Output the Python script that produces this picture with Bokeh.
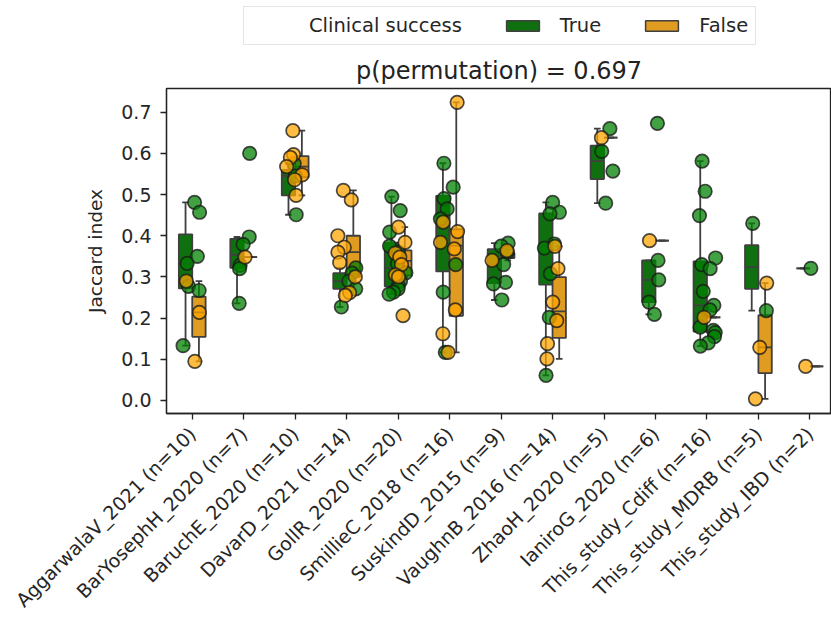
import numpy as np
from math import pi
from bokeh.plotting import figure
from bokeh.layouts import column
from bokeh.models import (ColumnDataSource, FixedTicker, Legend, LegendItem, Range1d,
                          PrintfTickFormatter)
from bokeh.embed import file_html
from bokeh.resources import INLINE

# ---------------- data ----------------
studies = ["AggarwalaV_2021", "BarYosephH_2020", "BaruchE_2020", "DavarD_2021",
           "GollR_2020", "SmillieC_2018", "SuskindD_2015", "VaughnB_2016",
           "ZhaoH_2020", "IaniroG_2020", "This_study_Cdiff", "This_study_MDRB",
           "This_study_IBD"]
n_total = [10, 7, 10, 14, 20, 16, 9, 14, 5, 6, 16, 5, 2]

true_vals = [
    [0.481, 0.457, 0.350, 0.333, 0.277, 0.267, 0.133],
    [0.600, 0.397, 0.379, 0.328, 0.320, 0.236],
    [0.575, 0.545, 0.451],
    [0.322, 0.309, 0.290, 0.271, 0.227],
    [0.495, 0.461, 0.409, 0.375, 0.360, 0.333, 0.310, 0.290, 0.279, 0.271, 0.263, 0.258],
    [0.576, 0.518, 0.490, 0.465, 0.441, 0.330, 0.263, 0.117],
    [0.382, 0.375, 0.360, 0.330, 0.287, 0.283, 0.244],
    [0.481, 0.457, 0.453, 0.380, 0.370, 0.308, 0.202, 0.061],
    [0.660, 0.605, 0.557, 0.479],
    [0.673, 0.340, 0.293, 0.239, 0.209],
    [0.581, 0.508, 0.449, 0.346, 0.330, 0.320, 0.265, 0.231, 0.220, 0.178, 0.170,
     0.165, 0.155, 0.140, 0.132],
    [0.430, 0.218],
    [0.321],
]
false_vals = [
    [0.290, 0.214, 0.095],
    [0.348],
    [0.655, 0.597, 0.590, 0.568, 0.548, 0.536, 0.498],
    [0.510, 0.487, 0.400, 0.372, 0.360, 0.335, 0.300, 0.262, 0.255],
    [0.421, 0.384, 0.358, 0.348, 0.330, 0.305, 0.300, 0.206],
    [0.724, 0.433, 0.410, 0.384, 0.368, 0.220, 0.162, 0.117],
    [0.364, 0.340],
    [0.374, 0.320, 0.239, 0.194, 0.138, 0.101],
    [0.638],
    [0.388],
    [0.202],
    [0.285, 0.129, 0.004],
    [0.083],
]
tick_labels = [f"{s} (n={n})" for s, n in zip(studies, n_total)]
y_ticks = [0.0, 0.1, 0.2, 0.3, 0.4, 0.5, 0.6, 0.7]
title_text = "p(permutation) = 0.697"
legend_title = "Clinical success"
hue_labels = ["True", "False"]
y_label = "Jaccard index"

# ---------------- style ----------------
FONT = "DejaVu Sans"
BOX_COLORS = ["#107010", "#df9c20"]
POINT_COLORS = ["#008000", "#ffa500"]
LINE = "#3f3f3f"
TXT = "#262626"
BOX_W = 0.26
OFFSETS = [-0.13, 0.13]
HEADER_H = 50

p = figure(width=831, height=622 - HEADER_H,
           x_range=Range1d(-0.5, 12.42), y_range=Range1d(-0.0316, 0.7575),
           output_backend="svg", toolbar_location=None,
           min_border_left=166, min_border_right=0,
           min_border_top=88 - HEADER_H, min_border_bottom=209)


def box_stats(vals):
    a = np.sort(np.asarray(vals, dtype=float))
    q1, med, q3 = np.percentile(a, [25, 50, 75])
    iqr = q3 - q1
    lo = a[a >= q1 - 1.5 * iqr].min()
    hi = a[a <= q3 + 1.5 * iqr].max()
    return q1, med, q3, lo, hi


for h, groups in enumerate([true_vals, false_vals]):
    d = dict(left=[], right=[], top=[], bottom=[])
    wk = dict(x0=[], y0=[], x1=[], y1=[])
    md = dict(x0=[], y0=[], x1=[], y1=[])
    for i, vals in enumerate(groups):
        if not vals:
            continue
        q1, med, q3, lo, hi = box_stats(vals)
        c = i + OFFSETS[h]
        d["left"].append(c - BOX_W / 2)
        d["right"].append(c + BOX_W / 2)
        d["top"].append(q3)
        d["bottom"].append(q1)
        for a_, b_ in [(q1, lo), (q3, hi)]:
            wk["x0"].append(c); wk["x1"].append(c)
            wk["y0"].append(a_); wk["y1"].append(b_)
        for v in (lo, hi):
            wk["x0"].append(c - BOX_W / 4); wk["x1"].append(c + BOX_W / 4)
            wk["y0"].append(v); wk["y1"].append(v)
        md["x0"].append(c - BOX_W / 2); md["x1"].append(c + BOX_W / 2)
        md["y0"].append(med); md["y1"].append(med)
    p.segment("x0", "y0", "x1", "y1", source=ColumnDataSource(wk),
              line_color=LINE, line_width=1.8)
    p.quad(left="left", right="right", top="top", bottom="bottom",
           source=ColumnDataSource(d), fill_color=BOX_COLORS[h],
           line_color=LINE, line_width=1.8)
    p.segment("x0", "y0", "x1", "y1", source=ColumnDataSource(md),
              line_color=LINE, line_width=1.8)

rng = np.random.default_rng(7)
for h, groups in enumerate([true_vals, false_vals]):
    xs, ys = [], []
    for i, vals in enumerate(groups):
        for v in vals:
            xs.append(i + rng.uniform(-0.18, 0.18))
            ys.append(v)
    p.scatter(xs, ys, size=13.5, fill_color=POINT_COLORS[h], fill_alpha=0.74,
              line_color="#1a1a1a", line_alpha=0.78, line_width=1.7)

p.title.text = title_text
p.title.align = "center"
p.title.text_font = FONT
p.title.text_font_size = "24px"
p.title.text_font_style = "normal"
p.title.text_color = "#222222"
p.title.standoff = 7

p.xgrid.visible = False
p.ygrid.visible = False
p.outline_line_color = "#222222"
p.outline_line_width = 1.3

p.xaxis.ticker = FixedTicker(ticks=list(range(len(studies))))
p.xaxis.major_label_overrides = {i: lab for i, lab in enumerate(tick_labels)}
p.xaxis.major_label_orientation = pi / 4
p.yaxis.ticker = FixedTicker(ticks=y_ticks)
p.yaxis.formatter = PrintfTickFormatter(format="%.1f")
p.yaxis.axis_label = y_label

for ax in (p.xaxis[0], p.yaxis[0]):
    ax.axis_line_color = "#222222"
    ax.axis_line_width = 1.3
    ax.major_tick_line_color = "#222222"
    ax.major_tick_line_width = 1.3
    ax.major_tick_out = 6
    ax.major_tick_in = 0
    ax.minor_tick_line_color = None
    ax.major_label_text_font = FONT
    ax.major_label_text_font_size = "19px"
    ax.major_label_text_color = TXT
    ax.axis_label_text_font = FONT
    ax.axis_label_text_font_size = "18.5px"
    ax.axis_label_text_font_style = "normal"
    ax.axis_label_text_color = TXT

p.yaxis.major_label_standoff = 9
p.yaxis.axis_label_standoff = 12
p.xaxis.major_label_standoff = 11

# ---------------- header with legend ----------------
hdr = figure(width=831, height=HEADER_H, x_range=Range1d(0, 1), y_range=Range1d(0, 1),
             output_backend="svg", toolbar_location=None,
             x_axis_location=None, y_axis_location=None, min_border=0)
hdr.outline_line_color = None
hdr.xgrid.visible = False
hdr.ygrid.visible = False
blank = hdr.quad(left=[-2], right=[-1], top=[-1], bottom=[-2], fill_alpha=0, line_alpha=0)
leg_r = [hdr.quad(left=[-2], right=[-1], top=[-1], bottom=[-2], fill_color=c,
                  line_color=LINE, line_width=1.5) for c in BOX_COLORS]

legend = Legend(items=[LegendItem(label=legend_title, renderers=[blank]),
                       LegendItem(label=hue_labels[0], renderers=[leg_r[0]]),
                       LegendItem(label=hue_labels[1], renderers=[leg_r[1]])],
                orientation="horizontal", location=(77, 5),
                glyph_width=41, glyph_height=13, label_standoff=17, spacing=40,
                padding=7, margin=0, label_height=20,
                label_text_font=FONT, label_text_font_size="19.5px",
                label_text_color=TXT,
                border_line_color="#cccccc", border_line_width=1.2,
                background_fill_alpha=1.0)
hdr.add_layout(legend)

open("out.html", "w").write(file_html(column(hdr, p, spacing=0), INLINE))
